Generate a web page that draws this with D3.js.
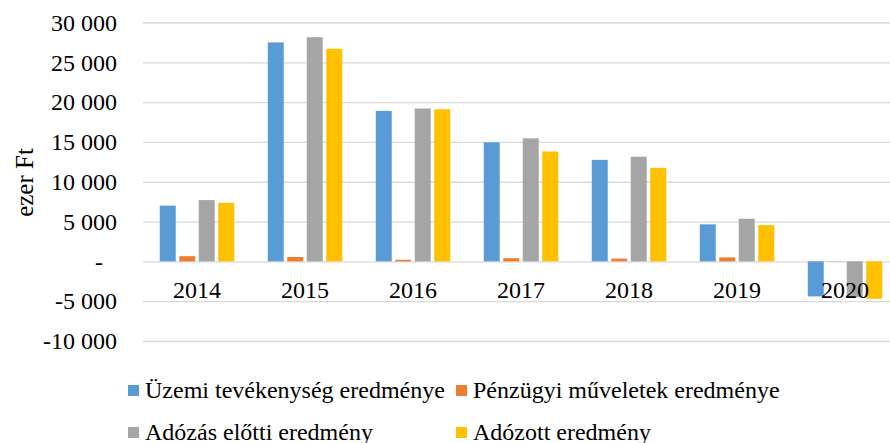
<!DOCTYPE html>
<html>
<head>
<meta charset="utf-8">
<script src="https://cdn.jsdelivr.net/npm/d3@7"></script>
<style>
  html, body { margin: 0; padding: 0; background: #fff; }
  svg { display: block; }
</style>
</head>
<body>
<div id="chart"></div>
<script>
// Data (ezer Ft)
const years = ['2014', '2015', '2016', '2017', '2018', '2019', '2020'];
const seriesNames = [
  'Üzemi tevékenység eredménye',
  'Pénzügyi műveletek eredménye',
  'Adózás előtti eredmény',
  'Adózott eredmény'
];
const uzemi     = [7000, 27500, 18900, 14950, 12750, 4650, -4400];
const penzugyi  = [650, 550, 200, 400, 350, 500, -80];
const adozasElotti = [7700, 28150, 19200, 15450, 13150, 5350, -4500];
const adozott   = [7350, 26700, 19100, 13800, 11750, 4550, -4700];
const yTicks = [-10000, -5000, 0, 5000, 10000, 15000, 20000, 25000, 30000];
const colors = ['#5B9BD5', '#ED7D31', '#A5A5A5', '#FFC000'];

const width = 890, height = 443;
const margin = { top: 22.5, left: 143, bottom: 102 };
const plotW = 756; // last category runs past the right edge, like the reference

const svg = d3.select('#chart').append('svg')
  .attr('width', width)
  .attr('height', height)
  .style('font-family', '"Liberation Serif", "Times New Roman", serif');

svg.append('rect').attr('width', width).attr('height', height).attr('fill', '#fff');

const allSeries = [uzemi, penzugyi, adozasElotti, adozott];
const rows = years.map((y, i) => ({ year: y, values: allSeries.map(s => s[i]) }));

const x0 = d3.scaleBand().domain(years).range([margin.left, margin.left + plotW]);
const x1 = d3.scaleBand().domain(d3.range(4)).range([0, x0.bandwidth()])
  .paddingInner(0.18).paddingOuter(0.86);
const y = d3.scaleLinear().domain([-10000, 30000]).range([height - margin.bottom, margin.top]);

const locale = d3.formatLocale({ decimal: ',', thousands: ' ', grouping: [3], currency: ['', ''], minus: '-' });
const fmt = locale.format(',.0f');

// y axis with gridlines
const yAxisG = svg.append('g')
  .attr('transform', `translate(${margin.left},0)`)
  .call(d3.axisLeft(y).tickValues(yTicks)
    .tickSizeInner(-(width - margin.left)).tickSizeOuter(0).tickPadding(26)
    .tickFormat(d => d === 0 ? '-' : fmt(d)));
yAxisG.select('.domain').remove();
yAxisG.selectAll('line').attr('stroke', '#d9d9d9').attr('stroke-width', 1.3);
yAxisG.selectAll('text')
  .attr('fill', '#000')
  .attr('font-size', '24px')
  .attr('font-family', '"Liberation Serif", serif')
  .attr('dx', d => d === 0 ? -14 : 0);

// bars
const groups = svg.append('g').selectAll('g')
  .data(rows)
  .join('g')
  .attr('transform', d => `translate(${x0(d.year)},0)`);

groups.selectAll('rect')
  .data(d => d.values.map((v, k) => ({ k, v })))
  .join('rect')
  .attr('x', d => x1(d.k))
  .attr('width', x1.bandwidth())
  .attr('y', d => y(Math.max(0, d.v)))
  .attr('height', d => Math.abs(y(d.v) - y(0)))
  .attr('fill', d => colors[d.k])
  .attr('opacity', d => (d.k === 1 && d.v < 0) ? 0.35 : 1);

// category labels just under the zero line
const xAxisG = svg.append('g')
  .attr('transform', `translate(0,${y(0)})`)
  .call(d3.axisBottom(x0).tickSize(0).tickPadding(20));
xAxisG.select('.domain').remove();
xAxisG.selectAll('text')
  .attr('fill', '#000')
  .attr('font-size', '24px')
  .attr('font-family', '"Liberation Serif", serif');

// y axis title
svg.append('text')
  .attr('transform', `translate(24,182.5) rotate(-90)`)
  .attr('text-anchor', 'middle')
  .attr('dominant-baseline', 'central')
  .attr('font-size', '25px')
  .attr('fill', '#000')
  .text('ezer Ft');

// legend (two columns, second row cut by the bottom edge)
const legendCols = [128, 456];
const legendRows = [398, 440];
const legend = svg.append('g').selectAll('g')
  .data(seriesNames)
  .join('g')
  .attr('transform', (d, i) => `translate(${legendCols[i % 2]},${legendRows[Math.floor(i / 2)]})`);
legend.append('rect')
  .attr('x', 0).attr('y', -13)
  .attr('width', 11).attr('height', 11)
  .attr('fill', (d, i) => colors[i]);
legend.append('text')
  .attr('x', 17)
  .attr('font-size', '24px')
  .attr('fill', '#000')
  .text(d => d);
</script>
</body>
</html>
